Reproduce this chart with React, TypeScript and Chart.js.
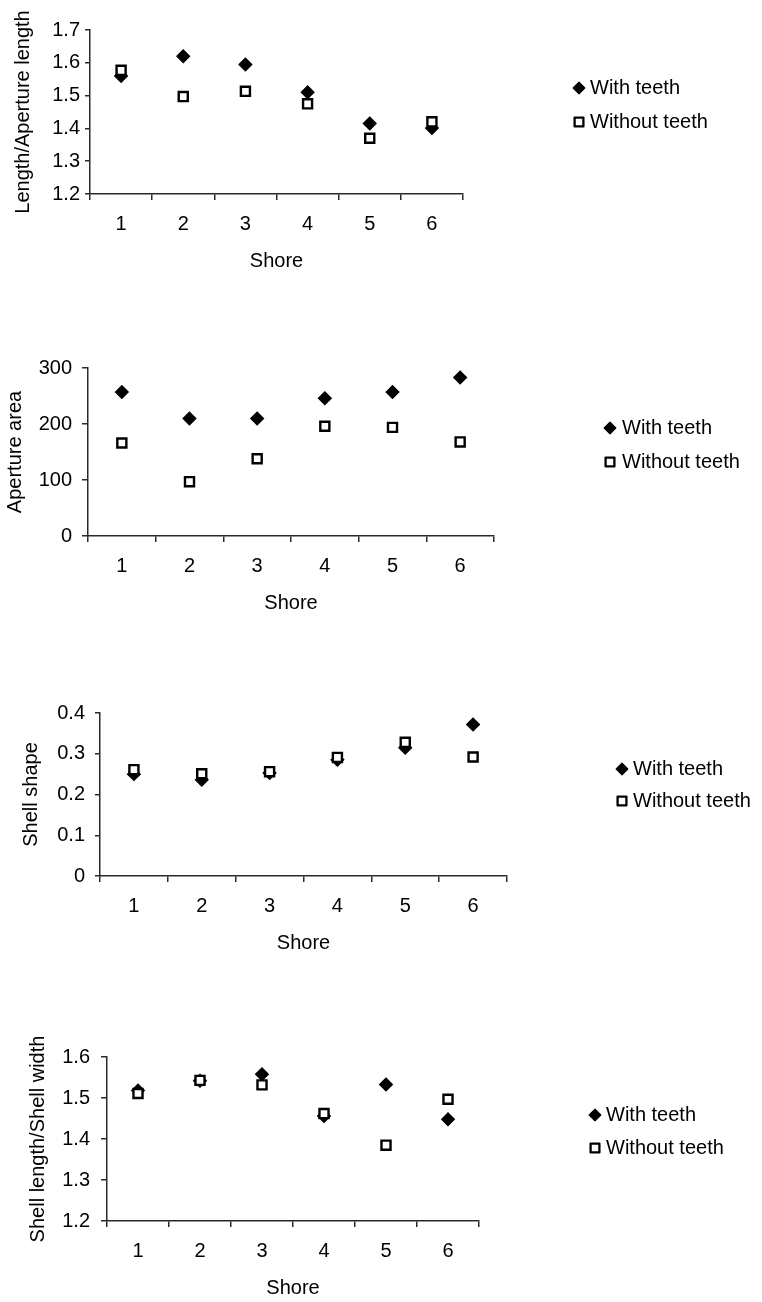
import { useEffect, useRef } from 'react';
import { Chart, registerables } from 'chart.js';

Chart.register(...registerables);

// Shore categories and series names
const shores = ['1', '2', '3', '4', '5', '6'];
const seriesNames = ['With teeth', 'Without teeth'];

// Length / aperture length
const lengthApertureWith = [1.56, 1.62, 1.595, 1.51, 1.415, 1.401];
const lengthApertureWithout = [1.577, 1.497, 1.513, 1.475, 1.37, 1.42];

// Aperture area
const apertureAreaWith = [257, 210, 210, 246, 257, 283];
const apertureAreaWithout = [166, 97, 138, 196, 194, 168];

// Shell shape
const shellShapeWith = [0.25, 0.236, 0.253, 0.285, 0.315, 0.372];
const shellShapeWithout = [0.261, 0.251, 0.256, 0.291, 0.328, 0.292];

// Shell length / shell width
const lengthWidthWith = [1.518, 1.542, 1.558, 1.456, 1.533, 1.448];
const lengthWidthWithout = [1.511, 1.543, 1.532, 1.462, 1.385, 1.497];

// Y-axis tick values
const ratioTicksA = [1.2, 1.3, 1.4, 1.5, 1.6, 1.7];
const areaTicks = [0, 100, 200, 300];
const shapeTicks = [0, 0.1, 0.2, 0.3, 0.4];
const ratioTicksB = [1.2, 1.3, 1.4, 1.5, 1.6];

const PAGE_W = 762;
const INK = '#000';
const AXIS = '#2a2a2a';
const FONT = { family: "'Liberation Sans', Arial, Helvetica, sans-serif", size: 20 };

const oneDecimal = (v: number) => v.toFixed(1);
const integer = (v: number) => String(Math.round(v));
const zeroOrDecimal = (v: number) => (v === 0 ? '0' : v.toFixed(1));

type PanelSpec = {
  top: number;
  height: number;
  plot: { left: number; right: number; top: number; bottom: number };
  yTitle: string;
  yTitleX: number;
  xTitleY: number;
  yTickLen: number;
  yTickPad: number;
  xTickPad: number;
  ticks: number[];
  fmt: (v: number) => string;
  withTeeth: number[];
  withoutTeeth: number[];
  legend: { markerX: number; textX: number; rows: number[] };
};

const panels: PanelSpec[] = [
  {
    top: 0,
    height: 300,
    plot: { left: 90, right: 463, top: 30, bottom: 194 },
    yTitle: 'Length/Aperture length',
    yTitleX: 23,
    xTitleY: 261,
    yTickLen: 5,
    yTickPad: 5,
    xTickPad: 12,
    ticks: ratioTicksA,
    fmt: oneDecimal,
    withTeeth: lengthApertureWith,
    withoutTeeth: lengthApertureWithout,
    legend: { markerX: 579, textX: 590, rows: [88, 122] },
  },
  {
    top: 300,
    height: 350,
    plot: { left: 88, right: 494, top: 368, bottom: 536 },
    yTitle: 'Aperture area',
    yTitleX: 15,
    xTitleY: 603,
    yTickLen: 6,
    yTickPad: 10,
    xTickPad: 12,
    ticks: areaTicks,
    fmt: integer,
    withTeeth: apertureAreaWith,
    withoutTeeth: apertureAreaWithout,
    legend: { markerX: 610, textX: 622, rows: [428, 462] },
  },
  {
    top: 650,
    height: 340,
    plot: { left: 100, right: 507, top: 713, bottom: 876 },
    yTitle: 'Shell shape',
    yTitleX: 31,
    xTitleY: 943,
    yTickLen: 5,
    yTickPad: 10,
    xTickPad: 12,
    ticks: shapeTicks,
    fmt: zeroOrDecimal,
    withTeeth: shellShapeWith,
    withoutTeeth: shellShapeWithout,
    legend: { markerX: 622, textX: 633, rows: [769, 801] },
  },
  {
    top: 990,
    height: 312,
    plot: { left: 107, right: 479, top: 1057, bottom: 1221 },
    yTitle: 'Shell length/Shell width',
    yTitleX: 38,
    xTitleY: 1288,
    yTickLen: 6,
    yTickPad: 11,
    xTickPad: 12,
    ticks: ratioTicksB,
    fmt: oneDecimal,
    withTeeth: lengthWidthWith,
    withoutTeeth: lengthWidthWithout,
    legend: { markerX: 595, textX: 606, rows: [1115, 1148] },
  },
];

// Draws a legend entry marker matching the dataset's point style
function drawMarker(ctx: CanvasRenderingContext2D, style: string, x: number, y: number) {
  ctx.beginPath();
  if (style === 'rectRot') {
    const r = 5.8;
    ctx.moveTo(x - r, y);
    ctx.lineTo(x, y - r);
    ctx.lineTo(x + r, y);
    ctx.lineTo(x, y + r);
    ctx.closePath();
    ctx.fillStyle = INK;
    ctx.fill();
    ctx.lineWidth = 1.2;
    ctx.strokeStyle = INK;
    ctx.lineJoin = 'round';
    ctx.stroke();
  } else {
    const h = 4.4;
    ctx.rect(x - h, y - h, 2 * h, 2 * h);
    ctx.fillStyle = '#fff';
    ctx.fill();
    ctx.lineWidth = 2.3;
    ctx.strokeStyle = INK;
    ctx.stroke();
  }
}

const sideLegend = {
  id: 'sideLegend',
  afterDraw(chart: any, _args: any, opts: any) {
    const { ctx } = chart;
    ctx.save();
    chart.data.datasets.forEach((ds: any, i: number) => {
      const y = opts.rows[i];
      drawMarker(ctx, ds.pointStyle, opts.markerX, y);
      ctx.fillStyle = INK;
      ctx.font = `${FONT.size}px ${FONT.family}`;
      ctx.textAlign = 'left';
      ctx.textBaseline = 'middle';
      ctx.fillText(ds.label, opts.textX, y);
    });
    ctx.restore();
  },
};

function buildConfig(p: PanelSpec): any {
  const canvasBottom = p.height;
  const plotBottom = p.plot.bottom - p.top;
  const lo = p.ticks[0];
  const hi = p.ticks[p.ticks.length - 1];
  return {
    type: 'line',
    data: {
      labels: shores,
      datasets: [
        {
          label: seriesNames[0],
          data: p.withTeeth,
          showLine: false,
          pointStyle: 'rectRot',
          pointRadius: 6.4,
          pointBackgroundColor: INK,
          pointBorderColor: INK,
          pointBorderWidth: 1.2,
          order: 1,
        },
        {
          label: seriesNames[1],
          data: p.withoutTeeth,
          showLine: false,
          pointStyle: 'rect',
          pointRadius: 6.4,
          pointBackgroundColor: '#fff',
          pointBorderColor: INK,
          pointBorderWidth: 2.4,
          order: 0,
        },
      ],
    },
    options: {
      responsive: false,
      animation: false,
      events: [],
      layout: {
        padding: {
          left: 0,
          top: p.plot.top - p.top,
          right: PAGE_W - p.plot.right,
          bottom: 0,
        },
      },
      scales: {
        x: {
          type: 'category',
          offset: true,
          grid: {
            offset: true,
            drawOnChartArea: false,
            drawTicks: true,
            tickLength: 6,
            color: AXIS,
            lineWidth: 1.5,
          },
          border: { display: true, color: AXIS, width: 1.5 },
          ticks: { color: INK, font: FONT, padding: p.xTickPad, maxRotation: 0, autoSkip: false },
          title: {
            display: true,
            text: 'Shore',
            color: INK,
            font: FONT,
            padding: { top: 0, bottom: canvasBottom - (p.xTitleY - p.top) - 12 },
          },
          afterFit: (s: any) => {
            s.height = canvasBottom - plotBottom;
          },
        },
        y: {
          type: 'linear',
          min: lo,
          max: hi,
          afterBuildTicks: (s: any) => {
            s.ticks = p.ticks.map((value) => ({ value }));
          },
          grid: {
            drawOnChartArea: false,
            drawTicks: true,
            tickLength: p.yTickLen,
            color: AXIS,
            lineWidth: 1.5,
          },
          border: { display: true, color: AXIS, width: 1.5 },
          ticks: {
            color: INK,
            font: FONT,
            padding: p.yTickPad,
            callback: (v: any) => p.fmt(Number(v)),
          },
          title: {
            display: true,
            text: p.yTitle,
            color: INK,
            font: FONT,
            padding: { top: p.yTitleX - 12, bottom: 0 },
          },
          afterFit: (s: any) => {
            s.width = p.plot.left;
          },
        },
      },
      plugins: {
        legend: { display: false },
        tooltip: { enabled: false },
        sideLegend: {
          markerX: p.legend.markerX,
          textX: p.legend.textX,
          rows: p.legend.rows.map((r) => r - p.top),
        },
      },
    },
    plugins: [sideLegend],
  };
}

function Panel({ spec }: { spec: PanelSpec }) {
  const ref = useRef<HTMLCanvasElement>(null);
  useEffect(() => {
    const canvas = ref.current;
    if (!canvas) return;
    const chart = new Chart(canvas, buildConfig(spec));
    return () => chart.destroy();
  }, [spec]);
  return (
    <canvas
      ref={ref}
      width={PAGE_W}
      height={spec.height}
      style={{
        position: 'absolute',
        left: 0,
        top: spec.top,
        width: PAGE_W,
        height: spec.height,
        display: 'block',
      }}
    />
  );
}

export default function App() {
  return (
    <div
      style={{
        position: 'absolute',
        left: 0,
        top: 0,
        width: PAGE_W,
        height: 1302,
        background: '#fff',
        overflow: 'hidden',
      }}
    >
      {panels.map((p, i) => (
        <Panel key={i} spec={p} />
      ))}
    </div>
  );
}
